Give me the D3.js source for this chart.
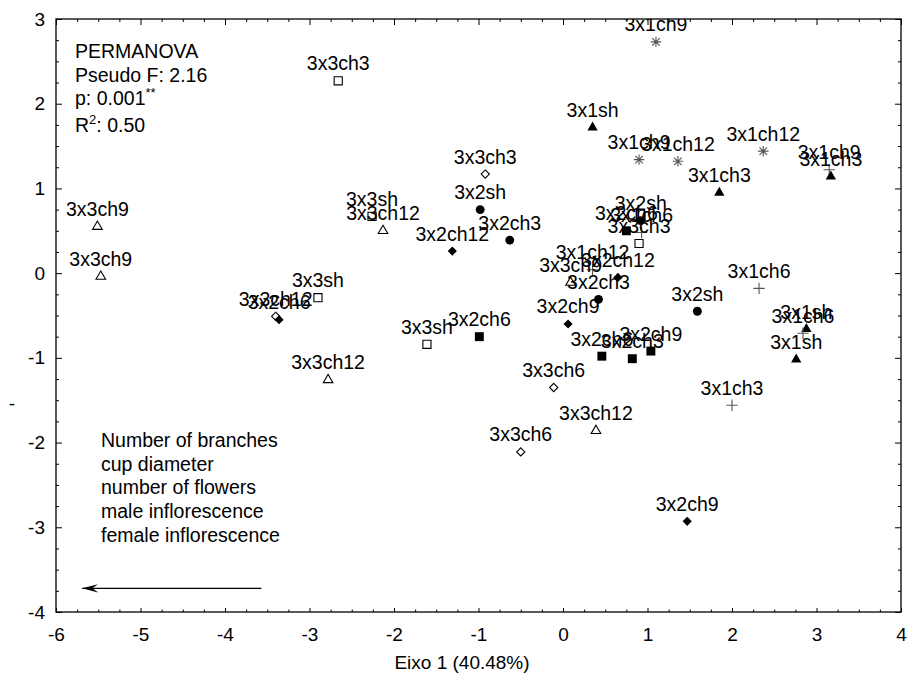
<!DOCTYPE html>
<html lang="en">
<head>
<meta charset="utf-8" />
<title>PCO - Eixo 1</title>
<script src="https://d3js.org/d3.v7.min.js"></script>
<style>
    body { margin: 0; background: #fff; }
    svg text { font-family: "Liberation Sans", Arial, sans-serif; fill: #000; }
    .tick-label { font-size: 19px; }
    .pt-label { font-size: 19.5px; }
    .note { font-size: 19.5px; }
</style>
</head>
<body>
<svg width="908" height="680"></svg>
<script>
    // point labels, coordinates on axis 1 / axis 2, and symbol group
    const labels = [
        "3x3ch3", "3x1ch9", "3x1sh", "3x1ch9", "3x1ch12", "3x1ch12", "3x1ch9", "3x1ch3", "3x1ch3",
        "3x3ch9", "3x3ch9", "3x3sh", "3x3ch12", "3x2ch6", "3x3ch12", "3x3sh", "3x3ch12",
        "3x2sh", "3x3ch3", "3x2ch3", "3x2ch12", "3x2sh", "3x2ch6", "3x1ch6", "3x3ch3",
        "3x1ch12", "3x3ch9", "3x2ch12", "3x2ch3", "3x2ch9", "3x2sh", "3x1ch6", "3x1sh",
        "3x1ch6", "3x1sh", "3x2ch6", "3x2ch3", "3x2ch9", "3x2ch6", "3x3sh", "3x3ch6",
        "3x3ch12", "3x3ch6", "3x1ch3", "3x2ch9"
    ];
    const axis1 = [
        -2.66, 1.10, 0.35, 0.90, 1.36, 2.37, 3.15, 3.17, 1.85,
        -5.51, -5.47, -2.90, -3.40, -3.36, -2.78, -2.26, -2.13,
        -0.98, -0.92, -0.63, -1.31, 0.92, 0.75, 0.93, 0.90,
        0.35, 0.09, 0.65, 0.42, 0.06, 1.59, 2.32, 2.88,
        2.84, 2.76, 0.46, 0.82, 1.04, -0.99, -1.61, -0.11,
        0.39, -0.50, 2.00, 1.47
    ];
    const axis2 = [
        2.27, 2.73, 1.72, 1.34, 1.32, 1.44, 1.22, 1.14, 0.95,
        0.55, -0.04, -0.29, -0.51, -0.55, -1.26, 0.67, 0.50,
        0.75, 1.17, 0.39, 0.26, 0.62, 0.50, 0.48, 0.35,
        0.04, -0.11, -0.05, -0.31, -0.60, -0.45, -0.18, -0.66,
        -0.71, -1.02, -0.98, -1.01, -0.92, -0.75, -0.84, -1.35,
        -1.86, -2.11, -1.56, -2.93
    ];
    const groups = [
        "3x3a", "3x1b", "3x1a", "3x1b", "3x1b", "3x1b", "3x1c", "3x1a", "3x1a",
        "3x3c", "3x3c", "3x3a", "3x3b", "3x2c", "3x3c", "3x3a", "3x3c",
        "3x2a", "3x3b", "3x2a", "3x2c", "3x2a", "3x2b", "3x1c", "3x3a",
        "3x1c", "3x3c", "3x2c", "3x2a", "3x2c", "3x2a", "3x1c", "3x1a",
        "3x1c", "3x1a", "3x2b", "3x2b", "3x2b", "3x2b", "3x3a", "3x3b",
        "3x3c", "3x3b", "3x1c", "3x2c"
    ];

    const xTicks = [-6, -5, -4, -3, -2, -1, 0, 1, 2, 3, 4];
    const yTicks = [-4, -3, -2, -1, 0, 1, 2, 3];

    const statLines = ["PERMANOVA", "Pseudo F: 2.16", "p: 0.001", "0.50"];
    const vectorNames = ["Number of branches", "cup diameter", "number of flowers",
        "male inflorescence", "female inflorescence"];
    const vectorStart = [-3.57, -3.72];
    const vectorEnd = [-5.69, -3.72];

    const points = labels.map((l, i) => ({ label: l, x: axis1[i], y: axis2[i], g: groups[i] }));

    const svg = d3.select("svg");
    const plotLeft = 56, plotRight = 901, plotTop = 19, plotBottom = 612;

    const x = d3.scaleLinear().domain([-6, 4]).range([plotLeft, plotRight]);
    const y = d3.scaleLinear().domain([-4, 3]).range([plotBottom, plotTop]);

    // custom symbol shapes
    const diamond = {
        draw(ctx, size) {
            const r = Math.sqrt(size / 2);
            ctx.moveTo(0, -r); ctx.lineTo(r, 0); ctx.lineTo(0, r); ctx.lineTo(-r, 0); ctx.closePath();
        }
    };
    const plus = {
        draw(ctx, size) {
            const r = Math.sqrt(size) / 2;
            ctx.moveTo(-r, 0); ctx.lineTo(r, 0); ctx.moveTo(0, -r); ctx.lineTo(0, r);
        }
    };
    const star = {
        draw(ctx, size) {
            const r = Math.sqrt(size) / 2, d = r * 0.72;
            ctx.moveTo(-r, 0); ctx.lineTo(r, 0); ctx.moveTo(0, -r); ctx.lineTo(0, r);
            ctx.moveTo(-d, -d); ctx.lineTo(d, d); ctx.moveTo(-d, d); ctx.lineTo(d, -d);
        }
    };

    const symbolStyle = {
        "3x1a": { type: d3.symbolTriangle, size: 46, fill: "#000", stroke: "none" },
        "3x1b": { type: star, size: 110, fill: "none", stroke: "#555" },
        "3x1c": { type: plus, size: 130, fill: "none", stroke: "#555" },
        "3x2a": { type: d3.symbolCircle, size: 62, fill: "#000", stroke: "none" },
        "3x2b": { type: d3.symbolSquare, size: 80, fill: "#000", stroke: "none" },
        "3x2c": { type: diamond, size: 42, fill: "#000", stroke: "none" },
        "3x3a": { type: d3.symbolSquare, size: 66, fill: "#fff", stroke: "#000" },
        "3x3b": { type: diamond, size: 34, fill: "#fff", stroke: "#000" },
        "3x3c": { type: d3.symbolTriangle, size: 40, fill: "#fff", stroke: "#000" }
    };

    svg.append("clipPath").attr("id", "plot-clip")
        .append("rect")
        .attr("x", plotLeft).attr("y", plotTop)
        .attr("width", plotRight - plotLeft).attr("height", plotBottom - plotTop);

    // ticks: major at integers, minor at quarters, all pointing inward
    const minorX = d3.range(-6, 4.001, 0.25).filter(v => !Number.isInteger(v));
    const minorY = d3.range(-4, 3.001, 0.25).filter(v => !Number.isInteger(v));
    const plain = d => String(d);

    function tickLayer(axis, transform) {
        const g = svg.append("g").attr("transform", transform).call(axis);
        g.select(".domain").remove();
        g.selectAll("line").attr("stroke", "#000");
        return g;
    }

    const gx = tickLayer(d3.axisBottom(x).tickValues(xTicks).tickFormat(plain).tickSize(-4).tickPadding(16),
        `translate(0,${plotBottom})`);
    gx.attr("font-size", null).attr("font-family", null);
    gx.selectAll("text").attr("class", "tick-label");
    tickLayer(d3.axisBottom(x).tickValues(minorX).tickSize(-2.5).tickFormat(""), `translate(0,${plotBottom})`);

    tickLayer(d3.axisTop(x).tickValues(xTicks).tickSize(-6).tickFormat(""), `translate(0,${plotTop})`);
    tickLayer(d3.axisTop(x).tickValues(minorX).tickSize(-3).tickFormat(""), `translate(0,${plotTop})`);

    const gy = tickLayer(d3.axisLeft(y).tickValues(yTicks).tickFormat(plain).tickSize(-6).tickPadding(11),
        `translate(${plotLeft},0)`);
    gy.attr("font-size", null).attr("font-family", null);
    gy.selectAll("text").attr("class", "tick-label");
    tickLayer(d3.axisLeft(y).tickValues(minorY).tickSize(-3).tickFormat(""), `translate(${plotLeft},0)`);

    tickLayer(d3.axisRight(y).tickValues(yTicks).tickSize(-6).tickFormat(""), `translate(${plotRight},0)`);
    tickLayer(d3.axisRight(y).tickValues(minorY).tickSize(-3).tickFormat(""), `translate(${plotRight},0)`);

    // frame
    svg.append("rect")
        .attr("x", plotLeft).attr("y", plotTop)
        .attr("width", plotRight - plotLeft).attr("height", plotBottom - plotTop)
        .attr("fill", "none").attr("stroke", "#000").attr("stroke-width", 1.3);

    // axis titles
    svg.append("text")
        .attr("class", "tick-label")
        .attr("x", 462).attr("y", 669)
        .attr("text-anchor", "middle")
        .text("Eixo 1 (40.48%)");

    svg.append("text")
        .attr("class", "tick-label")
        .attr("x", 12).attr("y", 410)
        .attr("text-anchor", "middle")
        .text("-");

    const plot = svg.append("g").attr("clip-path", "url(#plot-clip)");

    // points
    plot.append("g")
        .selectAll("path")
        .data(points)
        .join("path")
        .attr("transform", d => `translate(${x(d.x)},${y(d.y)})`)
        .attr("d", d => d3.symbol().type(symbolStyle[d.g].type).size(symbolStyle[d.g].size)())
        .attr("fill", d => symbolStyle[d.g].fill)
        .attr("stroke", d => symbolStyle[d.g].stroke)
        .attr("stroke-width", 1.1);

    // point labels
    plot.append("g")
        .selectAll("text")
        .data(points)
        .join("text")
        .attr("class", "pt-label")
        .attr("x", d => x(d.x))
        .attr("y", d => y(d.y) - 10.5)
        .attr("text-anchor", "middle")
        .text(d => d.label);

    // PERMANOVA block
    const stats = svg.append("text").attr("class", "note");
    stats.append("tspan").attr("x", 75).attr("y", 58).text(statLines[0]);
    stats.append("tspan").attr("x", 75).attr("y", 82).text(statLines[1]);
    stats.append("tspan").attr("x", 75).attr("y", 105).text(statLines[2]);
    stats.append("tspan").attr("dy", -8).attr("font-size", 13).text("**");
    stats.append("tspan").attr("x", 75).attr("y", 132).text("R");
    stats.append("tspan").attr("dy", -8).attr("font-size", 13).text("2");
    stats.append("tspan").attr("dy", 8).text(": " + statLines[3]);

    // variable vector, arrow pointing to its end
    svg.append("defs").append("marker")
        .attr("id", "head")
        .attr("viewBox", "0 -5 16 10")
        .attr("refX", 16).attr("refY", 0)
        .attr("markerWidth", 16).attr("markerHeight", 10)
        .attr("markerUnits", "userSpaceOnUse")
        .attr("orient", "auto")
        .append("path")
        .attr("d", "M16,0L0,-4.2L6,0L0,4.2Z")
        .attr("fill", "#000");

    svg.append("line")
        .attr("x1", x(vectorStart[0])).attr("y1", y(vectorStart[1]))
        .attr("x2", x(vectorEnd[0])).attr("y2", y(vectorEnd[1]))
        .attr("stroke", "#000").attr("stroke-width", 1.3)
        .attr("marker-end", "url(#head)");

    const vt = svg.append("text").attr("class", "note");
    vectorNames.forEach((n, i) => {
        vt.append("tspan").attr("x", 101).attr("y", 447 + i * 23.7).text(n);
    });
</script>
</body>
</html>
